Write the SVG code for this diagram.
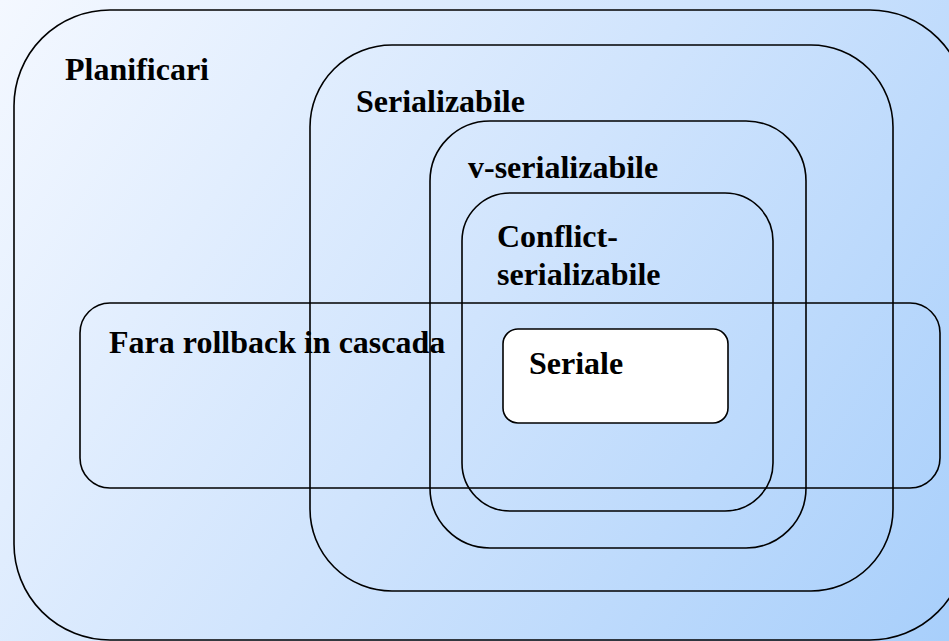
<svg xmlns="http://www.w3.org/2000/svg" width="949" height="641" viewBox="0 0 949 641">
  <defs>
    <linearGradient id="bg" x1="0" y1="0" x2="949" y2="641" gradientUnits="userSpaceOnUse">
      <stop offset="0" stop-color="#f4f8ff"/>
      <stop offset="0.5" stop-color="#d0e4fd"/>
      <stop offset="1" stop-color="#a8cffb"/>
    </linearGradient>
    <style>
      .set { fill: none; stroke: #000; stroke-width: 1.6; }
      .inner { fill: #fff; stroke: #000; stroke-width: 1.6; }
      .lbl { font-family: 'Liberation Serif', 'Times New Roman', serif; font-weight: bold; font-size: 32px; fill: #000; }
    </style>
  </defs>

  <rect x="0" y="0" width="949" height="641" fill="url(#bg)"/>

  <g id="planificari">
    <rect class="set" x="14" y="10" width="952" height="630" rx="96" ry="96"/>
    <text class="lbl" x="65" y="80">Planificari</text>
  </g>

  <g id="serializabile">
    <rect class="set" x="310" y="45" width="583" height="546" rx="82" ry="82"/>
    <text class="lbl" x="356" y="112">Serializabile</text>
  </g>

  <g id="v-serializabile">
    <rect class="set" x="430" y="121" width="376" height="427" rx="60" ry="60"/>
    <text class="lbl" x="468" y="178">v-serializabile</text>
  </g>

  <g id="conflict-serializabile">
    <rect class="set" x="462" y="193" width="311" height="318" rx="48" ry="48"/>
    <text class="lbl" x="497" y="247">Conflict-</text>
    <text class="lbl" x="497" y="285">serializabile</text>
  </g>

  <g id="fara-rollback">
    <rect class="set" x="80" y="303" width="860" height="185" rx="30" ry="30"/>
    <text class="lbl" x="109" y="353">Fara rollback in cascada</text>
  </g>

  <g id="seriale">
    <rect class="inner" x="503" y="329" width="225" height="94" rx="15" ry="15"/>
    <text class="lbl" x="529" y="374">Seriale</text>
  </g>

  <g id="connectors"/>
</svg>
